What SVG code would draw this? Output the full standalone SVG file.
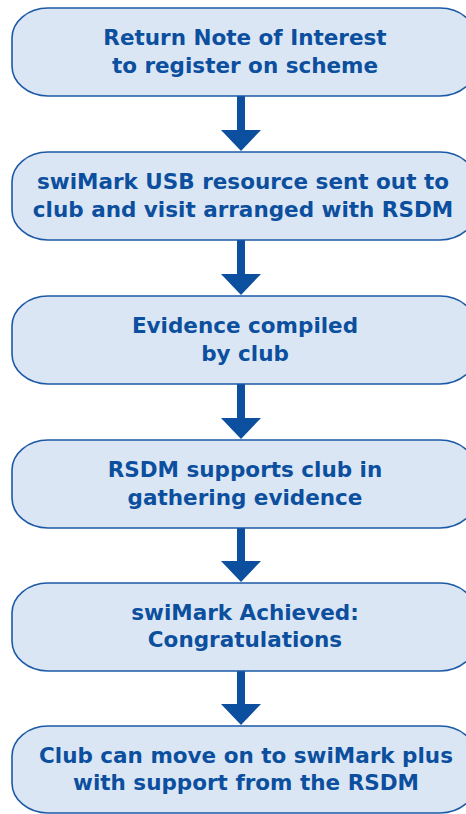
<svg xmlns="http://www.w3.org/2000/svg" width="466" height="814" viewBox="0 0 466 814">
<style>
.box{fill:#dbe6f4;stroke:#1d5aa6;stroke-width:1.6}
.t{font-family:"DejaVu Sans",Verdana,sans-serif;font-weight:bold;font-size:21.5px;fill:#0b4f9e;text-anchor:middle}
.arr{fill:#0b4f9e}
</style>
<rect width="466" height="814" fill="#ffffff"/>
<g id="connectors">
<path class="arr" d="M237,96 H245 V130 H261 L241,151 L221,130 H237 Z"/>
<path class="arr" d="M237,240 H245 V274 H261 L241,295 L221,274 H237 Z"/>
<path class="arr" d="M237,384 H245 V418 H261 L241,439 L221,418 H237 Z"/>
<path class="arr" d="M237,528 H245 V561 H261 L241,582 L221,561 H237 Z"/>
<path class="arr" d="M237,671 H245 V704 H261 L241,725 L221,704 H237 Z"/>
</g>
<g id="n1">
<rect class="box" x="12" y="8" width="464" height="88" rx="36" ry="30"/>
<text class="t" x="245" y="45">Return Note of Interest</text>
<text class="t" x="245" y="73">to register on scheme</text>
</g>
<g id="n2">
<rect class="box" x="12" y="152" width="464" height="88" rx="36" ry="30"/>
<text class="t" x="243" y="189">swiMark USB resource sent out to</text>
<text class="t" x="243" y="217">club and visit arranged with RSDM</text>
</g>
<g id="n3">
<rect class="box" x="12" y="296" width="464" height="88" rx="36" ry="30"/>
<text class="t" x="245" y="333">Evidence compiled</text>
<text class="t" x="245" y="361">by club</text>
</g>
<g id="n4">
<rect class="box" x="12" y="440" width="464" height="88" rx="36" ry="30"/>
<text class="t" x="245" y="477">RSDM supports club in</text>
<text class="t" x="245" y="505">gathering evidence</text>
</g>
<g id="n5">
<rect class="box" x="12" y="583" width="464" height="88" rx="36" ry="30"/>
<text class="t" x="245" y="620">swiMark Achieved:</text>
<text class="t" x="245" y="647">Congratulations</text>
</g>
<g id="n6">
<rect class="box" x="12" y="726" width="464" height="87" rx="36" ry="30"/>
<text class="t" x="246" y="763">Club can move on to swiMark plus</text>
<text class="t" x="246" y="790">with support from the RSDM</text>
</g>
</svg>
